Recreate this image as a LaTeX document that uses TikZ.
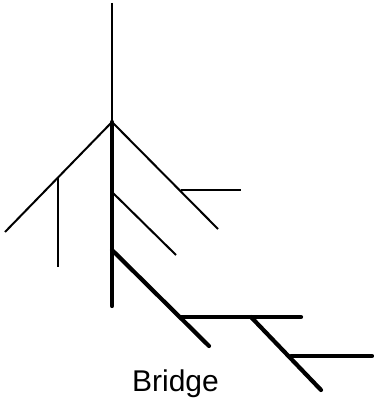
\documentclass[tikz,border=0pt]{standalone}
\usepackage{fontspec}
\setmainfont{Liberation Sans}
\begin{document}
\begin{tikzpicture}[
    x=1pt,
    y=-1pt,
    thin line/.style={line width=2pt},
    thick line/.style={line width=4.2pt, line cap=round},
    label/.style={font=\fontsize{30}{30}\selectfont, anchor=base, inner sep=0pt}
]
\useasboundingbox (0,0) rectangle (373,398);

% tree points
\coordinate (top) at (112,3);
\coordinate (apex) at (112,122);
\coordinate (leftend) at (5,232);
\coordinate (leftfork) at (58,177);
\coordinate (leftdrop) at (58,267);
\coordinate (rightend) at (218,229);
\coordinate (rightfork) at (181,190);
\coordinate (rightout) at (241,190);
\coordinate (trunkend) at (112,306);
\coordinate (midfork) at (112,192);
\coordinate (midend) at (176,255);
\coordinate (lowfork) at (112,250);
\coordinate (lowend) at (209,346);
\coordinate (bar1start) at (181,317);
\coordinate (bar1fork) at (251,317);
\coordinate (bar1end) at (301,317);
\coordinate (stemend) at (321,390);
\coordinate (bar2start) at (291,356);
\coordinate (bar2end) at (372,356);

% thin part
\draw[thin line] (top) -- (apex);
\draw[thin line] (apex) -- (leftend);
\draw[thin line] (leftfork) -- (leftdrop);
\draw[thin line] (apex) -- (rightend);
\draw[thin line] (rightfork) -- (rightout);
\draw[thin line] (midfork) -- (midend);

% bridge part
\draw[thick line] (apex) -- (trunkend);
\draw[thick line] (lowfork) -- (lowend);
\draw[thick line] (bar1start) -- (bar1end);
\draw[thick line] (bar1fork) -- (stemend);
\draw[thick line] (bar2start) -- (bar2end);

\node[label] (bridge) at (175.5,391) {Bridge};
\end{tikzpicture}
\end{document}
